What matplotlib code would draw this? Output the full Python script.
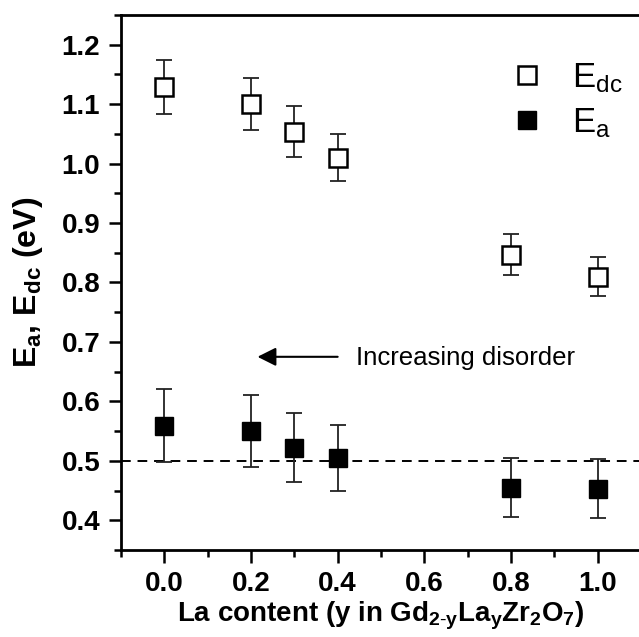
import matplotlib
matplotlib.use("Agg")
import matplotlib.pyplot as plt
from matplotlib.ticker import MultipleLocator

plt.rcParams['font.family'] = ['Liberation Sans', 'DejaVu Sans']
plt.rcParams['mathtext.fontset'] = 'custom'
plt.rcParams['mathtext.rm'] = 'Liberation Sans'
plt.rcParams['mathtext.bf'] = 'Liberation Sans:bold'
plt.rcParams['mathtext.it'] = 'Liberation Sans:italic'

# La content y
la = [0.0, 0.2, 0.3, 0.4, 0.8, 1.0]
# E_dc and its error
e_dc = [1.129, 1.100, 1.054, 1.010, 0.847, 0.810]
e_dc_err = [0.045, 0.044, 0.043, 0.040, 0.034, 0.033]
# E_a and its error
e_a = [0.559, 0.550, 0.522, 0.505, 0.455, 0.453]
e_a_err = [0.061, 0.060, 0.058, 0.056, 0.050, 0.050]

fig = plt.figure(figsize=(6.39, 6.37), dpi=100)
ax = fig.add_axes([121 / 639, 87 / 637, 520 / 639, 535 / 637])

# dashed reference line
ax.axhline(0.5, color='black', lw=1.4, ls=(0, (5, 3.5)), zorder=1)

ax.errorbar(la, e_dc, yerr=e_dc_err, fmt='none', ecolor='#222222',
            elinewidth=1.3, capsize=6, capthick=1.3, zorder=2)
ax.errorbar(la, e_a, yerr=e_a_err, fmt='none', ecolor='#222222',
            elinewidth=1.3, capsize=6, capthick=1.3, zorder=2)
ax.plot(la, e_dc, ls='none', marker='s', ms=13, mfc='white', mec='black',
        mew=1.8, zorder=3, label=r'$\mathregular{E_{dc}}$')
ax.plot(la, e_a, ls='none', marker='s', ms=13.5, mfc='black', mec='black',
        mew=1.0, zorder=3, label=r'$\mathregular{E_a}$')

# arrow and annotation
ax.annotate('', xy=(0.215, 0.675), xytext=(0.40, 0.675),
            arrowprops=dict(arrowstyle='-|>', color='black', lw=1.5,
                            mutation_scale=28, shrinkA=0, shrinkB=0))
ax.text(0.443, 0.673, 'Increasing disorder', fontsize=18.5,
        ha='left', va='center')

ax.set_xlim(-0.1, 1.1)
ax.set_ylim(0.35, 1.25)
ax.xaxis.set_major_locator(MultipleLocator(0.2))
ax.xaxis.set_minor_locator(MultipleLocator(0.1))
ax.yaxis.set_major_locator(MultipleLocator(0.1))
ax.yaxis.set_minor_locator(MultipleLocator(0.05))
ax.xaxis.set_major_formatter(plt.FuncFormatter(lambda v, p: f'{v:.1f}'))
ax.yaxis.set_major_formatter(plt.FuncFormatter(lambda v, p: f'{v:.1f}'))

ax.tick_params(which='major', direction='out', length=9, width=1.8,
               labelsize=20, pad=6)
ax.tick_params(which='minor', direction='out', length=5, width=1.8)
for lbl in ax.get_xticklabels() + ax.get_yticklabels():
    lbl.set_fontweight('bold')

for side in ['left', 'bottom', 'top']:
    ax.spines[side].set_linewidth(2)
ax.spines['right'].set_visible(False)

ax.set_xlabel(r'La content (y in Gd$_{\mathbf{2}\text{-}\mathbf{y}}$'
              r'La$_\mathbf{y}$Zr$_\mathbf{2}$O$_\mathbf{7}$)',
              fontsize=20, fontweight='bold', labelpad=2)
ax.set_ylabel(r'E$_\mathbf{a}$, E$_\mathbf{dc}$ (eV)', fontsize=23,
              fontweight='bold', labelpad=12)

ax.legend(loc='upper left', bbox_to_anchor=(0.72, 0.94), frameon=False,
          fontsize=25, handlelength=1.0, handletextpad=0.8,
          labelspacing=0.33, borderaxespad=0)

fig.savefig('out.png', dpi=100)
